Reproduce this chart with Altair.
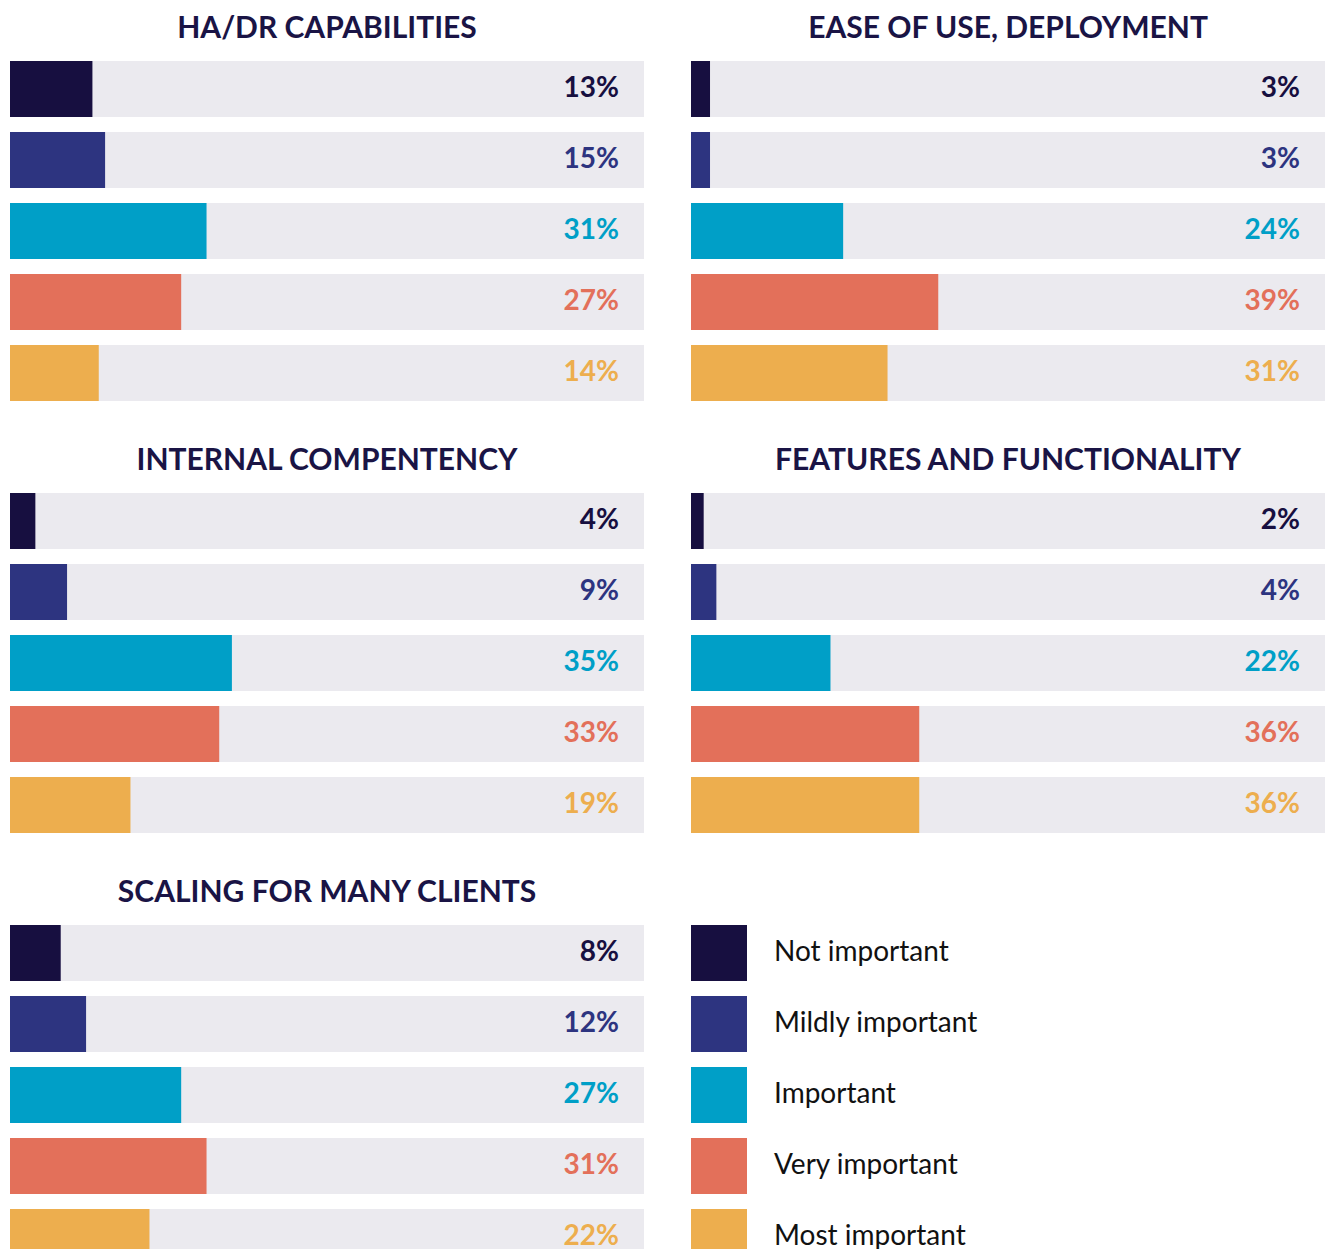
import altair as alt
import pandas as pd

categories = [
    "HA/DR CAPABILITIES",
    "EASE OF USE, DEPLOYMENT",
    "INTERNAL COMPENTENCY",
    "FEATURES AND FUNCTIONALITY",
    "SCALING FOR MANY CLIENTS",
]
levels = ["Not important", "Mildly important", "Important", "Very important", "Most important"]
colors = ["#170f40", "#2d3480", "#009fc7", "#e3705a", "#edae4e"]

values = {
    "HA/DR CAPABILITIES": [13, 15, 31, 27, 14],
    "EASE OF USE, DEPLOYMENT": [3, 3, 24, 39, 31],
    "INTERNAL COMPENTENCY": [4, 9, 35, 33, 19],
    "FEATURES AND FUNCTIONALITY": [2, 4, 22, 36, 36],
    "SCALING FOR MANY CLIENTS": [8, 12, 27, 31, 22],
}

TRACK = "#ebeaef"
TITLE_COLOR = "#1a1445"
FONT = "Lato"
W = 634
GAP = 47

rows = []
for c in categories:
    for lvl, v in zip(levels, values[c]):
        rows.append({"category": c, "level": lvl, "value": v, "full": 100, "label": f"{v}%"})
df = pd.DataFrame(rows)

color_scale = alt.Scale(domain=levels, range=colors)
y_enc = alt.Y("level:N", sort=levels,
              scale=alt.Scale(paddingInner=15 / 71, paddingOuter=0), axis=None)
x_scale = alt.Scale(domain=[0, 100], nice=False, zero=True)

legend = alt.Legend(
    title=None, orient="none", legendX=W + GAP, legendY=864, padding=0,
    symbolType="square", symbolSize=56 * 56, symbolStrokeWidth=0,
    symbolOpacity=1, rowPadding=15, labelOffset=27,
    labelFont=FONT, labelFontSize=28, labelColor="#111111",
    labelLimit=500,
)


def panel(cat):
    base = alt.Chart(df[df["category"] == cat])
    track = base.mark_bar(color=TRACK, cornerRadius=0).encode(
        x=alt.X("full:Q", scale=x_scale, axis=None), y=y_enc
    )
    bars = base.mark_bar(cornerRadius=0).encode(
        x=alt.X("value:Q", scale=x_scale, axis=None), y=y_enc,
        color=alt.Color("level:N", scale=color_scale, legend=legend),
    )
    text = base.mark_text(align="right", baseline="middle", dx=-25,
                          font=FONT, fontSize=28, fontWeight="bold").encode(
        x=alt.datum(100), y=y_enc,
        text="label:N",
        color=alt.Color("level:N", scale=color_scale, legend=legend),
    )
    return alt.layer(track, bars, text).properties(
        width=W, height=340,
        title=alt.TitleParams(cat, fontSize=30, font=FONT, fontWeight="bold",
                              color=TITLE_COLOR, anchor="middle", offset=17),
    )


p = [panel(c) for c in categories]

chart = alt.vconcat(
    alt.hconcat(p[0], p[1], spacing=GAP),
    alt.hconcat(p[2], p[3], spacing=GAP),
    p[4],
    spacing=45,
).properties(
    padding={"left": 2, "top": 6, "right": 0, "bottom": 0},
).configure_view(strokeWidth=0)

chart.save("out.html", embed_options={"renderer": "svg", "actions": False})
